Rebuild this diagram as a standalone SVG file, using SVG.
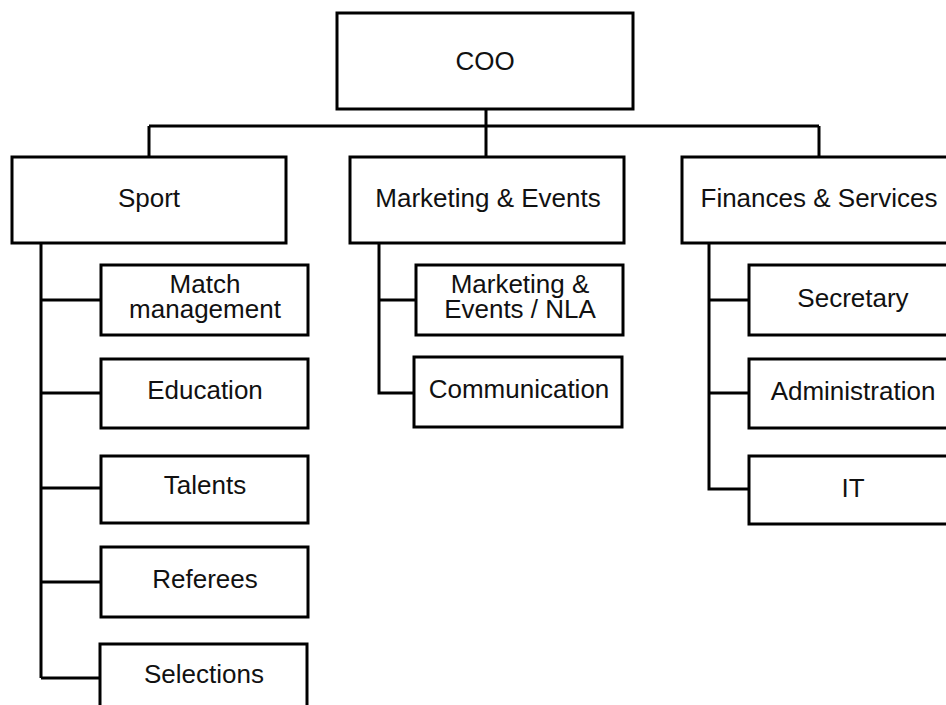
<svg xmlns="http://www.w3.org/2000/svg" width="946" height="705" viewBox="0 0 946 705">
<style>
.box{fill:#fff;stroke:#000;stroke-width:3}
.ln{fill:none;stroke:#000;stroke-width:3}
text{font-family:"Liberation Sans",Arial,sans-serif;font-size:26px;fill:#111;text-anchor:middle}
</style>
<rect width="946" height="705" fill="#fff"/>
<g id="connectors">
<path class="ln" d="M486 109V126M149 126H819M149 126V157M486 126V157M819 126V157"/>
<path class="ln" d="M41 243V678M41 300H101M41 393H101M41 488H101M41 582H101M41 678H100"/>
<path class="ln" d="M379 243V393H414M379 300H416"/>
<path class="ln" d="M709 243V489H749M709 300H749M709 393H749"/>
</g>
<g id="coo"><rect class="box" x="337" y="13" width="296" height="96"/><text x="485" y="70">COO</text></g>
<g id="sport"><rect class="box" x="12" y="157" width="274" height="86"/><text x="149" y="207">Sport</text></g>
<g id="marketing"><rect class="box" x="350" y="157" width="274" height="86"/><text x="488" y="207">Marketing &amp; Events</text></g>
<g id="finances"><rect class="box" x="682" y="157" width="276" height="86"/><text x="819" y="207">Finances &amp; Services</text></g>
<g id="match"><rect class="box" x="101" y="265" width="207" height="70"/><text x="205" y="293">Match</text><text x="205" y="318">management</text></g>
<g id="education"><rect class="box" x="101" y="359" width="207" height="69"/><text x="205" y="399">Education</text></g>
<g id="talents"><rect class="box" x="101" y="456" width="207" height="67"/><text x="205" y="494">Talents</text></g>
<g id="referees"><rect class="box" x="101" y="547" width="207" height="70"/><text x="205" y="588">Referees</text></g>
<g id="selections"><rect class="box" x="100" y="644" width="207" height="80"/><text x="204" y="683">Selections</text></g>
<g id="mkt-nla"><rect class="box" x="416" y="265" width="207" height="70"/><text x="520" y="293">Marketing &amp;</text><text x="520" y="318">Events / NLA</text></g>
<g id="communication"><rect class="box" x="414" y="357" width="208" height="70"/><text x="519" y="398">Communication</text></g>
<g id="secretary"><rect class="box" x="749" y="265" width="209" height="70"/><text x="853" y="307">Secretary</text></g>
<g id="administration"><rect class="box" x="749" y="359" width="209" height="69"/><text x="853" y="400">Administration</text></g>
<g id="it"><rect class="box" x="749" y="456" width="209" height="68"/><text x="853" y="497">IT</text></g>
</svg>
